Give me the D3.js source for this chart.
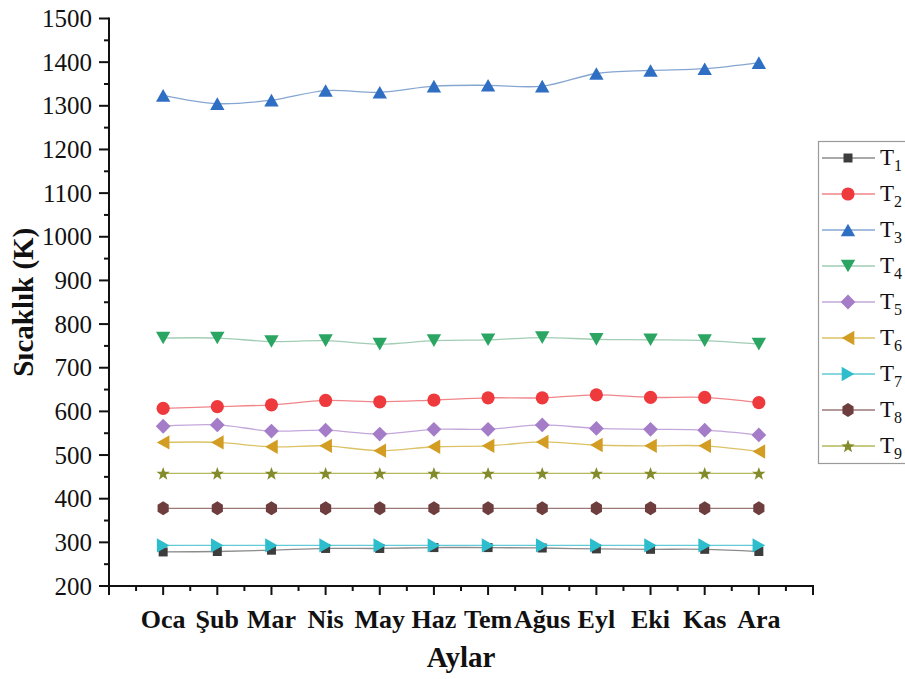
<!DOCTYPE html>
<html>
<head>
<meta charset="utf-8">
<script src="https://cdn.jsdelivr.net/npm/d3@7"></script>
<style>
  html, body { margin: 0; padding: 0; background: #fff; }
  svg { display: block; }
</style>
</head>
<body>
<svg id="chart" width="905" height="679"></svg>
<script>
// Monthly temperatures (K) at nine points T1..T9
const months = ["Oca", "Şub", "Mar", "Nis", "May", "Haz", "Tem", "Ağus", "Eyl", "Eki", "Kas", "Ara"];

const T1 = [278, 279, 282, 286, 286, 288, 288, 287, 285, 284, 284, 279];
const T2 = [607, 611, 615, 625, 622, 626, 631, 631, 638, 632, 632, 620];
const T3 = [1324, 1305, 1313, 1335, 1331, 1345, 1347, 1345, 1374, 1381, 1385, 1399];
const T4 = [768, 768, 760, 762, 754, 762, 764, 769, 765, 764, 762, 754];
const T5 = [566, 569, 555, 557, 548, 559, 559, 569, 561, 559, 557, 546];
const T6 = [529, 529, 519, 521, 510, 519, 521, 530, 523, 521, 521, 508];
const T7 = [293, 293, 293, 293, 293, 293, 293, 293, 293, 293, 293, 293];
const T8 = [378, 378, 378, 378, 378, 378, 378, 378, 378, 378, 378, 378];
const T9 = [458, 458, 458, 458, 458, 458, 458, 458, 458, 458, 458, 458];

const seriesNames = ["1", "2", "3", "4", "5", "6", "7", "8", "9"];
const seriesValues = [T1, T2, T3, T4, T5, T6, T7, T8, T9];
const markerColors = ["#3d3d3d", "#ee3a3d", "#2f6fc3", "#2aa562", "#a47cc8", "#d39d24", "#2dbdcc", "#6e3d3d", "#838b2a"];
const lineColors   = ["#8c8c8c", "#f0858a", "#86a6d2", "#a2cdb4", "#c3a7da", "#dcc266", "#62cbd6", "#9c7878", "#b3b95c"];
const markerShapes = ["square", "circle", "up", "down", "diamond", "left", "right", "hexagon", "star"];

const yTicks = [200, 300, 400, 500, 600, 700, 800, 900, 1000, 1100, 1200, 1300, 1400, 1500];

const SERIF = "'Liberation Serif', Tinos, 'Times New Roman', Times, 'DejaVu Serif', 'Noto Serif', serif";

const svg = d3.select("#chart");

const x = d3.scaleLinear().domain([0, 13]).range([109, 813]);
const y = d3.scaleLinear().domain([200, 1500]).range([586, 18.5]);

// Marker path generator (shapes centred on their bounding box)
function markerPath(shape) {
  const p = d3.path();
  if (shape === "square") {
    const s = 4.5; p.rect(-s, -s, 2 * s, 2 * s);
  } else if (shape === "circle") {
    p.arc(0, 0, 6.6, 0, 2 * Math.PI);
  } else if (shape === "diamond") {
    const r = 7.4; p.moveTo(0, -r); p.lineTo(r, 0); p.lineTo(0, r); p.lineTo(-r, 0); p.closePath();
  } else if (shape === "hexagon") {
    const r = 7;
    for (let i = 0; i < 6; i++) {
      const a = Math.PI / 2 + i * Math.PI / 3;
      const px = r * 0.92 * Math.cos(a), py = r * Math.sin(a);
      if (i === 0) p.moveTo(px, py); else p.lineTo(px, py);
    }
    p.closePath();
  } else if (shape === "star") {
    const ro = 7, ri = 2.9;
    for (let i = 0; i < 10; i++) {
      const r = i % 2 === 0 ? ro : ri;
      const a = -Math.PI / 2 + i * Math.PI / 5;
      const px = r * Math.cos(a), py = r * Math.sin(a) + 0.6;
      if (i === 0) p.moveTo(px, py); else p.lineTo(px, py);
    }
    p.closePath();
  } else {
    const w = 7.2, h = 6.3; // half-width, half-height of triangle bbox
    if (shape === "up")    { p.moveTo(0, -h); p.lineTo(w, h); p.lineTo(-w, h); }
    if (shape === "down")  { p.moveTo(0, h); p.lineTo(w, -h); p.lineTo(-w, -h); }
    if (shape === "left")  { p.moveTo(-h, 0); p.lineTo(h, -w); p.lineTo(h, w); }
    if (shape === "right") { p.moveTo(h, 0); p.lineTo(-h, -w); p.lineTo(-h, w); }
    p.closePath();
  }
  return p.toString();
}

// Series lines and markers
const line = d3.line()
  .x((d, i) => x(i + 1))
  .y(d => y(d))
  .curve(d3.curveCatmullRom.alpha(0.5));

const plot = svg.append("g");
seriesValues.forEach((vals, k) => {
  plot.append("path")
    .attr("d", line(vals))
    .attr("fill", "none")
    .attr("stroke", lineColors[k])
    .attr("stroke-width", 1.3);
});
seriesValues.forEach((vals, k) => {
  plot.selectAll(null)
    .data(vals)
    .join("path")
    .attr("d", markerPath(markerShapes[k]))
    .attr("transform", (d, i) => `translate(${x(i + 1)},${y(d)})`)
    .attr("fill", markerColors[k]);
});

// Y axis
const yMinor = d3.range(250, 1500, 100);
const yAxis = svg.append("g").attr("transform", `translate(${x(0)},0)`);
yAxis.append("line").attr("y1", y(1500) - 1).attr("y2", y(200) + 1)
  .attr("stroke", "#111").attr("stroke-width", 2);
yAxis.selectAll(".maj").data(yTicks).join("line")
  .attr("x1", -10).attr("x2", 0)
  .attr("y1", d => y(d)).attr("y2", d => y(d))
  .attr("stroke", "#111").attr("stroke-width", 2);
yAxis.selectAll(".min").data(yMinor).join("line")
  .attr("x1", -5).attr("x2", 0)
  .attr("y1", d => y(d)).attr("y2", d => y(d))
  .attr("stroke", "#111").attr("stroke-width", 2);
yAxis.selectAll("text").data(yTicks).join("text")
  .attr("x", -17).attr("y", d => y(d))
  .attr("dy", "0.34em")
  .attr("text-anchor", "end")
  .attr("font-family", SERIF)
  .attr("font-size", 25)
  .attr("fill", "#111")
  .text(d => d);

// X axis
const xMajor = d3.range(0, 14);
const xMinor = d3.range(0.5, 13, 1);
const xAxis = svg.append("g").attr("transform", `translate(0,${y(200)})`);
xAxis.append("line").attr("x1", x(0) - 1).attr("x2", x(13) + 1)
  .attr("stroke", "#111").attr("stroke-width", 2);
xAxis.selectAll(".maj").data(xMajor).join("line")
  .attr("x1", d => x(d)).attr("x2", d => x(d))
  .attr("y1", 0).attr("y2", 9)
  .attr("stroke", "#111").attr("stroke-width", 2);
xAxis.selectAll(".min").data(xMinor).join("line")
  .attr("x1", d => x(d)).attr("x2", d => x(d))
  .attr("y1", 0).attr("y2", 5)
  .attr("stroke", "#111").attr("stroke-width", 2);
xAxis.selectAll("text").data(months).join("text")
  .attr("x", (d, i) => x(i + 1)).attr("y", 42)
  .attr("text-anchor", "middle")
  .attr("font-family", SERIF)
  .attr("font-size", 26).attr("font-weight", "bold")
  .attr("fill", "#111")
  .text(d => d);

// Axis titles
svg.append("text")
  .attr("x", (x(0) + x(13)) / 2).attr("y", 667)
  .attr("text-anchor", "middle")
  .attr("font-family", SERIF)
  .attr("font-size", 29).attr("font-weight", "bold")
  .attr("fill", "#111")
  .text("Aylar");
svg.append("text")
  .attr("transform", `translate(33,${(y(200) + y(1500)) / 2}) rotate(-90)`)
  .attr("text-anchor", "middle")
  .attr("font-family", SERIF)
  .attr("font-size", 29).attr("font-weight", "bold")
  .attr("fill", "#111")
  .text("Sıcaklık (K)");

// Legend
const legend = svg.append("g");
legend.append("rect")
  .attr("x", 818.5).attr("y", 141.5).attr("width", 120).attr("height", 322)
  .attr("fill", "#fff").attr("stroke", "#9a9a9a").attr("stroke-width", 1.2);
const item = legend.selectAll(".item").data(seriesNames).join("g")
  .attr("transform", (d, i) => `translate(0,${158 + i * 36})`);
item.append("line").attr("x1", 822).attr("x2", 875).attr("y1", 0).attr("y2", 0)
  .attr("stroke", (d, i) => lineColors[i]).attr("stroke-width", 1.3);
item.append("path")
  .attr("d", (d, i) => markerPath(markerShapes[i]))
  .attr("transform", "translate(848,0)")
  .attr("fill", (d, i) => markerColors[i]);
const lt = item.append("text").attr("x", 880).attr("y", 7)
  .attr("font-family", SERIF)
  .attr("font-size", 23)
  .attr("fill", "#111");
lt.append("tspan").text("T");
lt.append("tspan").attr("dy", 6).attr("font-size", 16).text(d => d);
</script>
</body>
</html>
